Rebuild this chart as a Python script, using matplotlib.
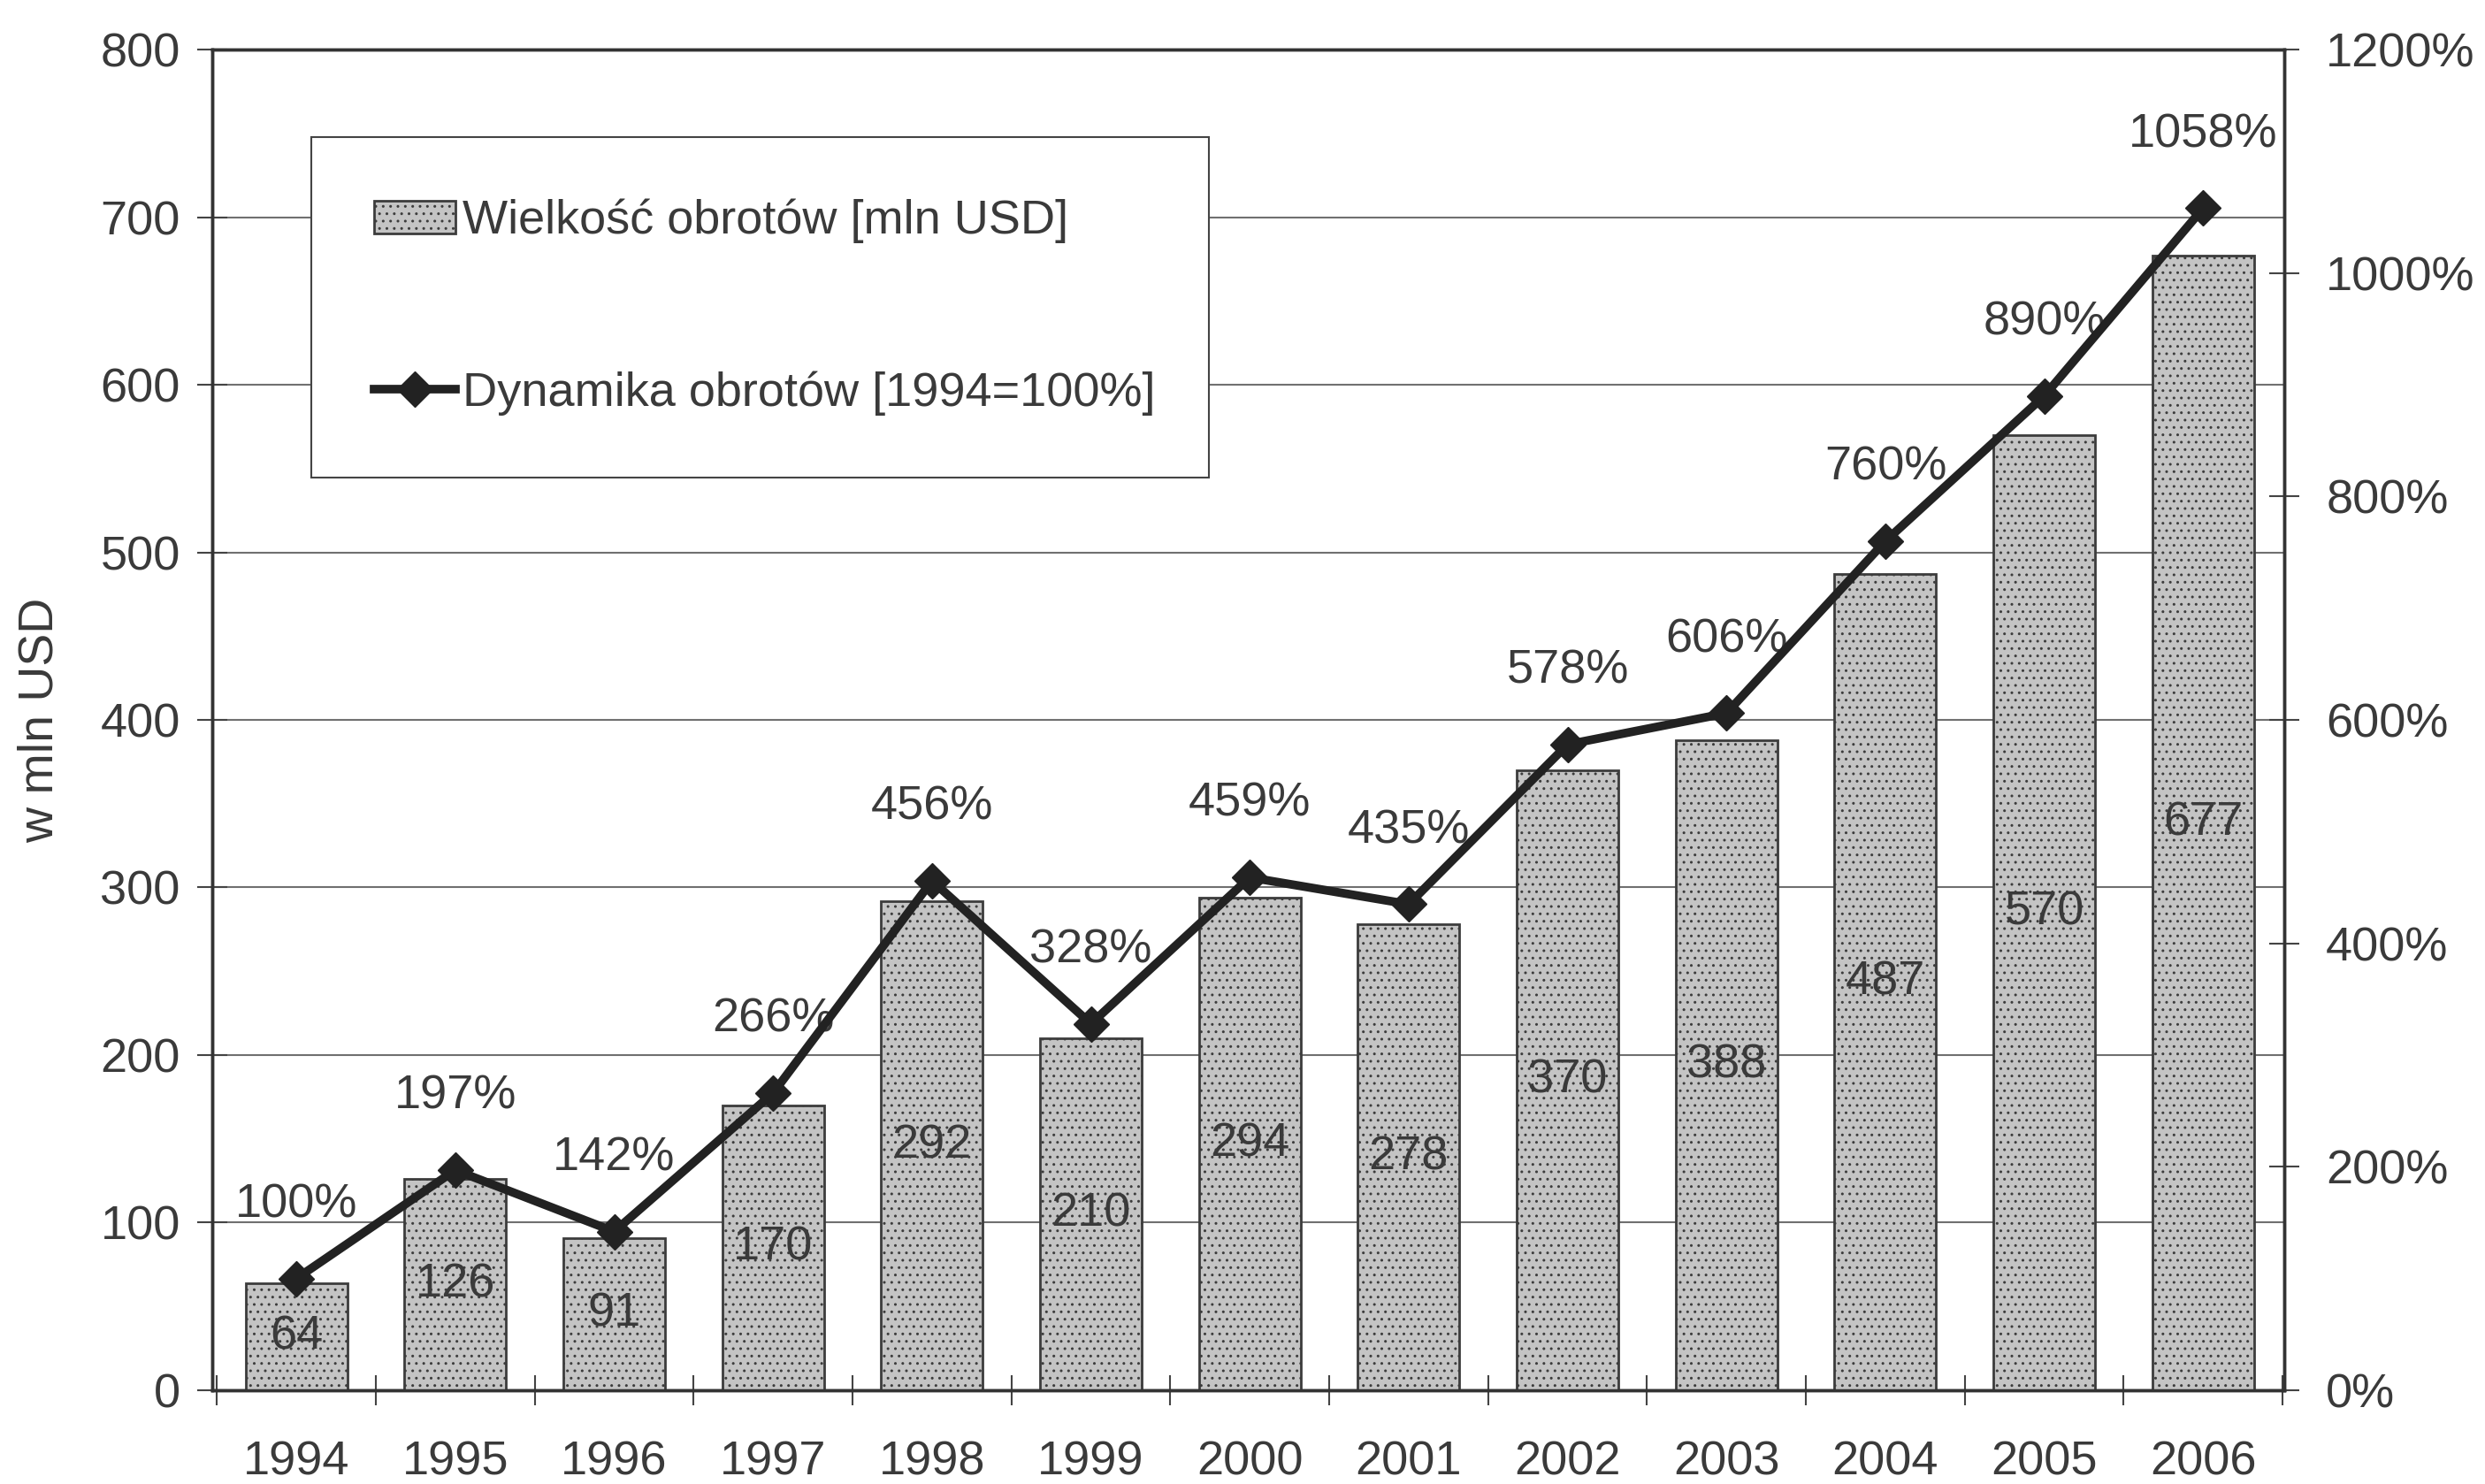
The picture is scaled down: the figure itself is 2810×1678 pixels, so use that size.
import numpy as np
import matplotlib.pyplot as plt

plt.rcParams['font.family'] = ['Liberation Sans', 'DejaVu Sans']

years = ['1994', '1995', '1996', '1997', '1998', '1999', '2000',
         '2001', '2002', '2003', '2004', '2005', '2006']
turnover = [64, 126, 91, 170, 292, 210, 294, 278, 370, 388, 487, 570, 677]
dynamics = [100, 197, 142, 266, 456, 328, 459, 435, 578, 606, 760, 890, 1058]

txt = '#3a3a3a'
fs = 39

fig = plt.figure(figsize=(28.1, 16.78), dpi=100)
ax = fig.add_axes([0.0854, 0.0632, 0.8338, 0.9034])
ax2 = ax.twinx()

x = np.arange(len(years))
bars = ax.bar(x, turnover, width=0.64, color='#c4c4c4', edgecolor='#3c3c3c',
              linewidth=2, hatch='..', label='Wielkość obrotów [mln USD]', zorder=3)
for rect, v in zip(bars, turnover):
    ax.text(rect.get_x() + rect.get_width() / 2, v / 2, str(v), ha='center', va='center',
            fontsize=fs, color=txt, zorder=4)

line, = ax2.plot(x, dynamics, color='#222222', lw=7, marker='D', ms=20,
                 label='Dynamika obrotów [1994=100%]', zorder=5)
for xi, v in zip(x, dynamics):
    ax2.annotate(f'{v}%', (xi, v), xytext=(0, 60), textcoords='offset points',
                 ha='center', va='center', fontsize=fs, color=txt)

ax.set_xlim(-0.53, 12.51)
ax.set_ylim(0, 800)
ax2.set_ylim(0, 1200)
ax.set_yticks(np.arange(0, 801, 100))
ax2.set_yticks(np.arange(0, 1201, 200))
ax2.set_yticklabels([f'{v}%' for v in range(0, 1201, 200)])
ax.set_xticks(x, years)
ax.set_xticks(np.arange(-0.5, 13, 1), minor=True)

ax.grid(axis='y', color='#707070', lw=1.5, zorder=0)
ax.set_axisbelow(True)

ax.tick_params(axis='x', which='major', length=0, pad=41, labelsize=fs, labelcolor=txt)
ax.tick_params(axis='x', which='minor', length=24, width=1.5, direction='inout', color='#444')
ax.tick_params(axis='y', length=24, width=1.5, direction='inout', pad=14,
               labelsize=fs, labelcolor=txt, color='#444')
ax2.tick_params(axis='y', length=24, width=1.5, direction='inout', pad=22,
                labelsize=fs, labelcolor=txt, color='#444')

for a in (ax, ax2):
    for s in a.spines.values():
        s.set_color('#333333')
        s.set_linewidth(2.5)

ax.set_ylabel('w mln USD', fontsize=fs + 1, color=txt, labelpad=30)

leg = ax2.legend([bars, line], [bars.get_label(), line.get_label()],
                 loc='upper left', bbox_to_anchor=(0.048, 0.935, 0.433, 0.0),
                 mode='expand', borderaxespad=0, fontsize=fs, labelspacing=2.65,
                 borderpad=1.3, handlelength=1.7, handletextpad=0.15,
                 fancybox=False, framealpha=1, edgecolor='#444444')
leg.get_frame().set_linewidth(1.5)
leg.set_zorder(10)
for t in leg.get_texts():
    t.set_color(txt)

fig.savefig('out.png', dpi=100)
